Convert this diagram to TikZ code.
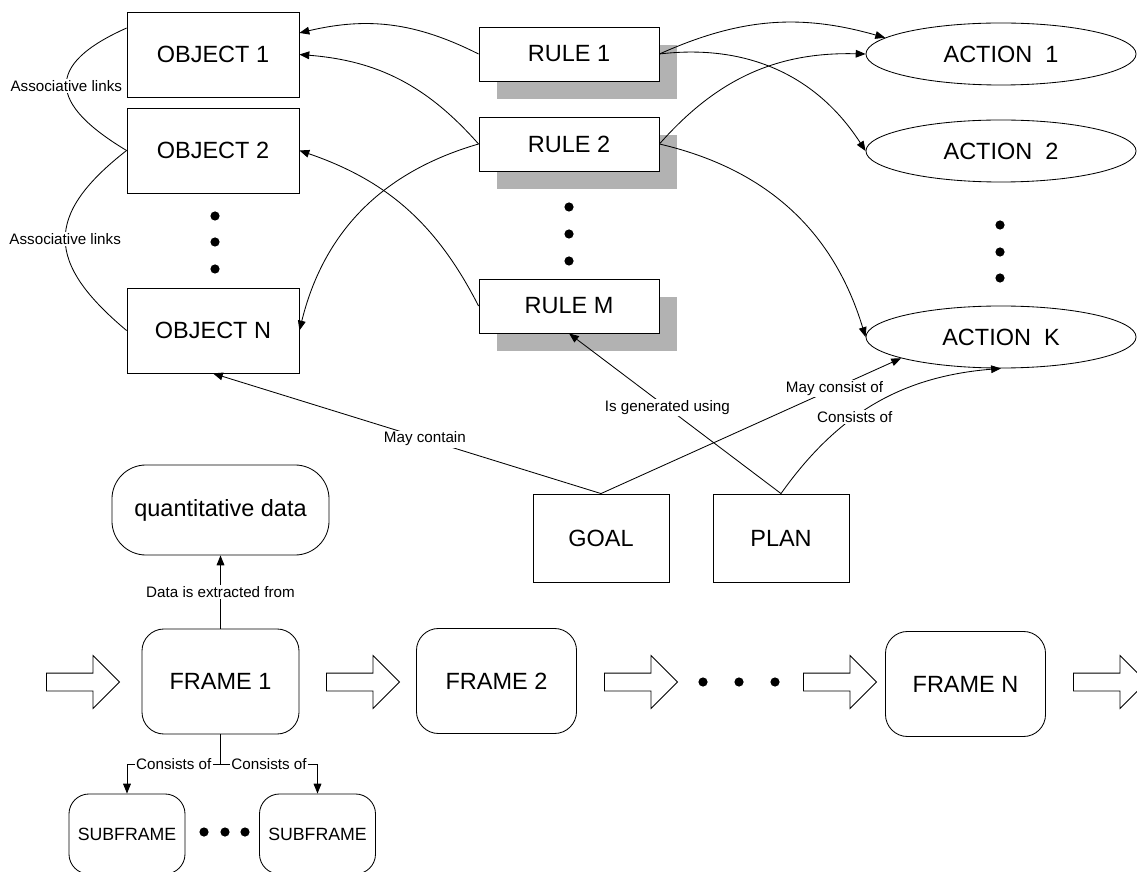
\documentclass[tikz,border=0pt]{standalone}
\usepackage{fontspec}
\setmainfont{Liberation Sans}
\usepackage{tikz}
\usetikzlibrary{positioning,arrows.meta,shapes.geometric,shapes.arrows,shadows}
\definecolor{shadowgray}{RGB}{178,178,178}

\begin{document}
\begin{tikzpicture}[
        x = 0.025cm, y = -0.025cm,
        big/.style = {font=\fontsize{16.7}{20}\selectfont},
        small/.style = {font=\fontsize{10.8}{13}\selectfont},
        link/.style = {line width=0.6pt},
        arr/.style = {line width=0.6pt, -{Triangle[length=7pt,width=5.5pt]}}
    ]
    \tikzstyle{objbox} = [draw, line width=0.6pt, big, minimum width=4.3cm, minimum height=2.125cm];
    \tikzstyle{rulebox} = [draw, fill=white, line width=0.6pt, big, minimum width=4.5cm, minimum height=1.35cm,
        drop shadow={shadow xshift=0.45cm, shadow yshift=-0.45cm, fill=shadowgray, opacity=1, draw=none}];
    \tikzstyle{actell} = [draw, ellipse, line width=0.6pt, big, inner sep=0pt, minimum width=6.75cm, minimum height=1.55cm];
    \tikzstyle{framebox} = [draw, rounded corners=0.55cm, line width=0.6pt, big, minimum width=4cm, minimum height=2.625cm];
    \tikzstyle{subbox} = [draw, rounded corners=0.5cm, line width=0.6pt, font=\fontsize{12.6}{15}\selectfont, minimum width=2.9cm, minimum height=2cm];
    \tikzstyle{lbl} = [small, fill=white, inner sep=1pt];
    \tikzstyle{dot} = [circle, fill=black, inner sep=0pt, minimum size=0.23cm];
    \tikzstyle{fatarrow} = [draw, single arrow, anchor=tail, line width=0.6pt, single arrow head extend=0.4375cm, minimum height=1.825cm, inner sep=0.2125cm];

    \useasboundingbox (0,0) rectangle (1137,872);

    \node [objbox] (obj1) at (213,54.5) {OBJECT 1};
    \node [objbox] (obj2) at (213,150.5) {OBJECT 2};
    \node [objbox] (objN) at (213,330.5) {OBJECT N};
    \foreach \y in {216,242,269} \node [dot] (odot\y) at (215,\y) {};

    \node [rulebox] (rule1) at (569,54) {RULE 1};
    \node [rulebox] (rule2) at (569,144) {RULE 2};
    \node [rulebox] (ruleM) at (569,306) {RULE M};
    \foreach \y in {207,234,261} \node [dot] (rdot\y) at (569,\y) {};

    \node [actell] (act1) at (1001,54) {ACTION\ \ 1};
    \node [actell] (act2) at (1001,151) {ACTION\ \ 2};
    \node [actell] (actK) at (1001,337) {ACTION\ \ K};
    \foreach \y in {225,252,278} \node [dot] (adot\y) at (1000,\y) {};

    \node [objbox, minimum width=3.4cm, minimum height=2.2cm] (goal) at (601,538) {GOAL};
    \node [objbox, minimum width=3.4cm, minimum height=2.2cm] (plan) at (781,538) {PLAN};

    \node [draw, rounded corners=0.85cm, line width=0.6pt, big, minimum width=5.425cm, minimum height=2.25cm] (qdata) at (220.5,510) {quantitative data};

    \node [fatarrow] (fa1) at (46,682) {};
    \node [framebox, minimum width=3.925cm] (frame1) at (220.5,681.5) {FRAME 1};
    \node [fatarrow] (fa2) at (326,682) {};
    \node [framebox] (frame2) at (496.5,681) {FRAME 2};
    \node [fatarrow] (fa3) at (604,682) {};
    \foreach \x in {703,739,775} \node [dot] (fdot\x) at (\x,682) {};
    \node [fatarrow] (fa4) at (803,682) {};
    \node [framebox] (frameN) at (965.5,684) {FRAME N};
    \node [fatarrow] (fa5) at (1073,682) {};

    \node [subbox] (sub1) at (127,834) {SUBFRAME};
    \node [subbox] (sub2) at (317.5,834) {SUBFRAME};
    \foreach \x in {204,225,245} \node [dot] (sdot\x) at (\x,832) {};

    \draw [link] (obj1.163) to [out=204, in=149, looseness=1.9] node [lbl] (al1) {Associative links} (obj2.west);
    \draw [link] (obj2.west) to [out=218, in=140, looseness=1.5] node [lbl] (al2) {Associative links} (objN.west);

    \draw [arr] (rule1.west) to [bend right=20] (obj1.14);
    \draw [arr] (rule2.west) to [bend right=22] (obj1.east);
    \draw [arr] (rule2.west) to [bend right=30] (objN.east);
    \draw [arr] (ruleM.west) to [bend right=22] (obj2.east);
    \draw [arr] (rule1.east) to [bend left=20] (act1.172);
    \draw [arr] (rule1.east) to [bend left=32] (act2.west);
    \draw [arr] (rule2.east) to [bend left=25] (act1.west);
    \draw [arr] (rule2.east) to [bend left=30] (actK.west);

    \draw [arr] (goal.north) -- node [lbl, pos=0.454] (lmc) {May contain} (objN.south);
    \draw [arr] (goal.north) -- node [lbl, pos=0.778] (lmco) {May consist of} (actK.192);
    \draw [arr] (plan.north) -- node [lbl, pos=0.536] (lgen) {Is generated using} (ruleM.south);
    \draw [arr] (plan.north) to [bend left=25] node [lbl, pos=0.4] (lco) {Consists of} (actK.south);

    \draw [arr] (frame1.north) -- node [lbl] (ldata) {Data is extracted from} (qdata.south);
    \coordinate (fsplit) at (220.5,764);
    \draw [link] (frame1.south) -- (fsplit);
    \draw [arr] (fsplit) -| node [lbl, pos=0.25] (lsub1) {Consists of} (sub1.north);
    \draw [arr] (fsplit) -| node [lbl, pos=0.25] (lsub2) {Consists of} (sub2.north);
\end{tikzpicture}
\end{document}
